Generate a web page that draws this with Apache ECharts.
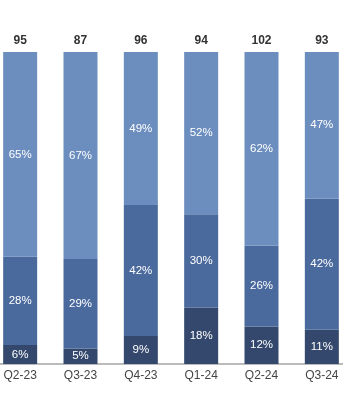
<!DOCTYPE html>
<html><head><meta charset="utf-8">
<script src="https://cdn.jsdelivr.net/npm/echarts@6/dist/echarts.min.js"></script>
<style>html,body{margin:0;padding:0;background:#fff;overflow:hidden}#c{width:362px;height:420px;margin-left:-10px}</style>
</head><body><div id="c"></div>
<script>
var categories = ['Q2-23','Q3-23','Q4-23','Q1-24','Q2-24','Q3-24'];
var totals = [95, 87, 96, 94, 102, 93];
var bottomPct = [6, 5, 9, 18, 12, 11];
var middlePct = [28, 29, 42, 30, 26, 42];
var topPct = [65, 67, 49, 52, 62, 47];

var sums = categories.map(function(_, i){ return bottomPct[i] + middlePct[i] + topPct[i]; });
function norm(arr){ return arr.map(function(v, i){ return v / sums[i] * 100; }); }
function seg(name, arr, color){
  return {
    name: name, type: 'bar', stack: 's', barWidth: 34,
    data: norm(arr),
    itemStyle: { color: color },
    label: { show: true, position: 'inside', color: '#fff', fontSize: 11.5,
      fontFamily: 'Liberation Sans, Arial, sans-serif',
      formatter: function(p){ return arr[p.dataIndex] + '%'; } },
    emphasis: { disabled: true }
  };
}
var series = [
  seg('bottom', bottomPct, '#33486c'),
  seg('middle', middlePct, '#4a6a9d'),
  seg('top', topPct, '#6c8ebf')
];
series.push({
  name: 'total', type: 'bar', stack: 's', barWidth: 34,
  data: categories.map(function(){ return 0; }),
  itemStyle: { color: 'transparent' },
  label: { show: true, position: 'top', distance: 5, color: '#333', fontSize: 12, fontWeight: 'bold',
    fontFamily: 'Liberation Sans, Arial, sans-serif',
    formatter: function(p){ return totals[p.dataIndex]; } },
  emphasis: { disabled: true }
});

var chart = echarts.init(document.getElementById('c'), null, { renderer: 'canvas' });
chart.setOption({
  animation: false,
  grid: { left: 0, right: 0, top: 52, bottom: 56, containLabel: false },
  xAxis: {
    type: 'category', data: categories,
    axisLine: { lineStyle: { color: '#bbbbbb', width: 2 } },
    axisTick: { show: false },
    axisLabel: { color: '#444', fontSize: 12, margin: 6, fontFamily: 'Liberation Sans, Arial, sans-serif' }
  },
  yAxis: { type: 'value', min: 0, max: 100, show: false, splitLine: { show: false } },
  series: series
});
</script></body></html>
